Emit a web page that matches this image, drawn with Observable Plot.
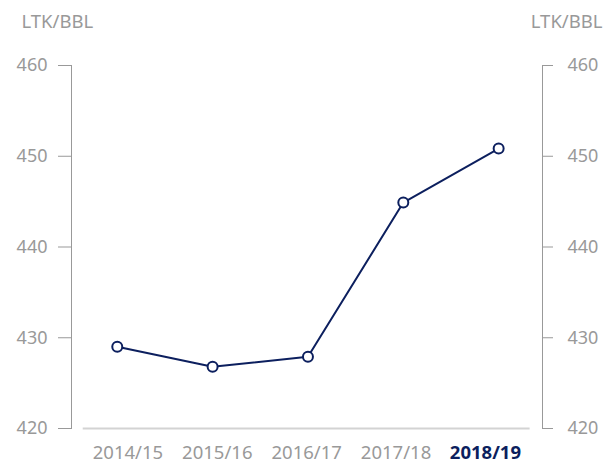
<!DOCTYPE html>
<html>
<head>
<meta charset="utf-8">
<script src="https://cdn.jsdelivr.net/npm/d3@7"></script>
<script src="https://cdn.jsdelivr.net/npm/@observablehq/plot@0.6"></script>
<style>
  html, body { margin: 0; padding: 0; background: #fff; }
  #chart svg { display: block; }
</style>
</head>
<body>
<div id="chart"></div>
<script>
const years = ["2014/15", "2015/16", "2016/17", "2017/18", "2018/19"];
const values = [429.0, 426.8, 427.9, 444.9, 450.85];
const yTicks = [420, 430, 440, 450, 460];
const unitLabel = "LTK/BBL";

const navy = "#0c1f5e";
const gray = "#999999";
const font = "'Noto Sans', sans-serif";

// points sit at index positions; category labels are centered in equal bands
// spanning the baseline (which is slightly narrower than the point spread)
const baseStart = -0.357, baseEnd = 4.33;
const bandW = (baseEnd - baseStart) / years.length;
const data = years.map((year, i) => ({
  i, year, value: values[i],
  labelX: baseStart + (i + 0.5) * bandW,
  last: i === years.length - 1
}));

const chart = Plot.plot({
  width: 613,
  height: 463,
  marginLeft: 71,
  marginRight: 71,
  marginTop: 65,
  marginBottom: 35,
  style: {fontFamily: font, fontSize: "18px", color: gray, background: "#fff"},
  x: {domain: [-0.48, 4.46], axis: null},
  y: {domain: [420, 460], axis: null},
  marks: [
    Plot.axisY({anchor: "left", ticks: yTicks, tickSize: 13, tickPadding: 11, label: null, stroke: gray, fill: gray, fontSize: 18}),
    Plot.axisY({anchor: "right", ticks: yTicks, tickSize: 10, tickPadding: 15, label: null, stroke: gray, fill: gray, fontSize: 18}),
    Plot.frame({anchor: "left", stroke: gray}),
    Plot.frame({anchor: "right", stroke: gray}),
    Plot.ruleY([420], {x1: baseStart, x2: baseEnd, stroke: "#d3d3d3", strokeWidth: 2}),
    Plot.line(data, {x: "i", y: "value", stroke: navy, strokeWidth: 2}),
    Plot.dot(data, {x: "i", y: "value", r: 5, fill: "#fff", stroke: navy, strokeWidth: 2}),
    Plot.text(data.filter(d => !d.last), {x: "labelX", text: "year", frameAnchor: "bottom", lineAnchor: "middle", dy: 25, fill: gray, fontSize: 18.5}),
    Plot.text(data.filter(d => d.last), {x: "labelX", text: "year", frameAnchor: "bottom", lineAnchor: "middle", dy: 25, fill: navy, fontWeight: "bold", fontSize: 18.5}),
    Plot.text([unitLabel], {frameAnchor: "top-left", lineAnchor: "middle", dx: -50, dy: -43.5, textAnchor: "start", fill: gray, fontSize: 18.5}),
    Plot.text([unitLabel], {frameAnchor: "top-right", lineAnchor: "middle", dx: 60, dy: -43.5, textAnchor: "end", fill: gray, fontSize: 18.5})
  ]
});
document.getElementById("chart").appendChild(chart);
</script>
</body>
</html>
